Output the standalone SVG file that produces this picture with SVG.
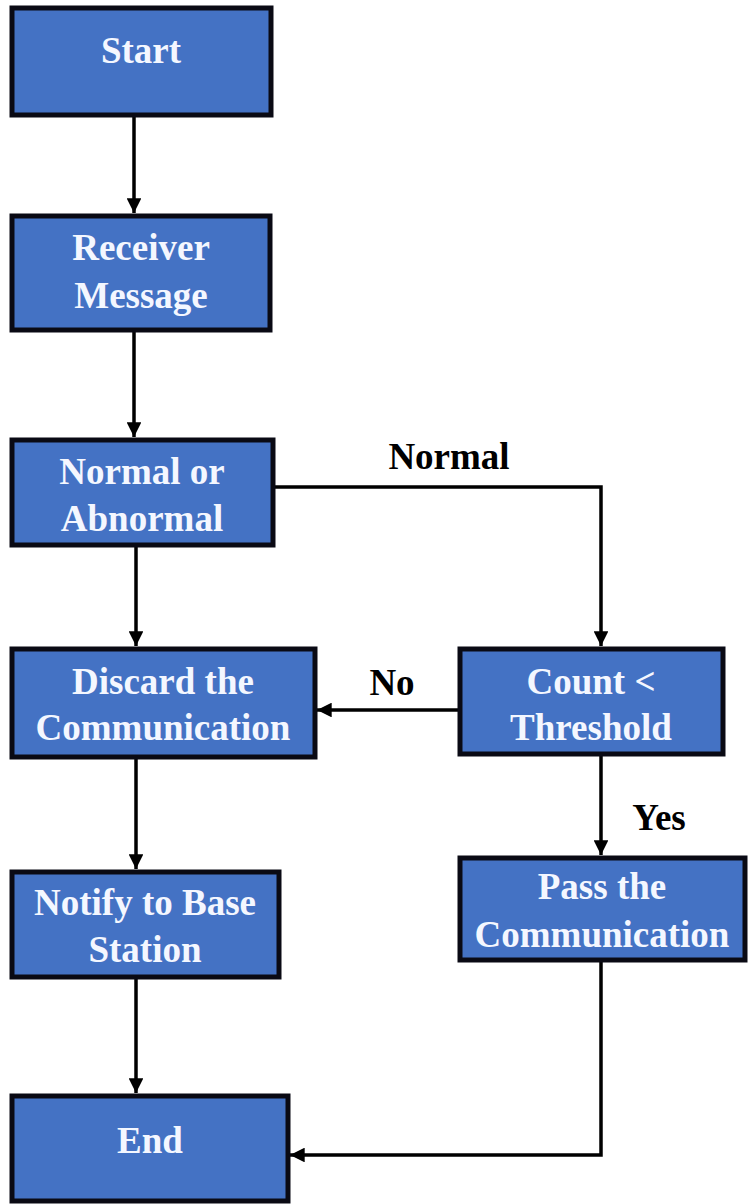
<svg xmlns="http://www.w3.org/2000/svg" width="748" height="1204" viewBox="0 0 748 1204">
<style>
.box{fill:#4472C4;stroke:#0a0a14;stroke-width:5}
.t{font-family:"Liberation Serif","Times New Roman",serif;font-weight:bold;font-size:37px;fill:#f4f7ff;text-anchor:middle}
.lbl{font-family:"Liberation Serif","Times New Roman",serif;font-weight:bold;font-size:37px;fill:#000;text-anchor:middle}
.c{fill:none;stroke:#000;stroke-width:3.5}
</style>
<defs>
<marker id="ah" viewBox="0 0 10 10" refX="10" refY="5" markerWidth="4.2" markerHeight="4.2" orient="auto" markerUnits="strokeWidth">
<path d="M0,0 L10,5 L0,10 z" fill="#000"/>
</marker>
</defs>
<rect width="748" height="1204" fill="#fff"/>
<g id="connectors">
<path class="c" d="M134,115 V213" marker-end="url(#ah)"/>
<path class="c" d="M134,330 V437" marker-end="url(#ah)"/>
<path class="c" d="M136,545 V646" marker-end="url(#ah)"/>
<path class="c" d="M273,487 H601 V646" marker-end="url(#ah)"/>
<path class="c" d="M460,710 H317" marker-end="url(#ah)"/>
<path class="c" d="M601,754 V855" marker-end="url(#ah)"/>
<path class="c" d="M136,757 V869" marker-end="url(#ah)"/>
<path class="c" d="M136,977 V1093" marker-end="url(#ah)"/>
<path class="c" d="M601,960 V1155 H290" marker-end="url(#ah)"/>
<text class="lbl" x="449" y="469">Normal</text>
<text class="lbl" x="392" y="695">No</text>
<text class="lbl" x="659" y="830">Yes</text>
</g>
<g id="start">
<rect class="box" x="12" y="8" width="259" height="107"/>
<text class="t" x="141" y="63">Start</text>
</g>
<g id="receiver">
<rect class="box" x="12" y="216" width="258" height="114"/>
<text class="t" x="141" y="260">Receiver</text>
<text class="t" x="141" y="308">Message</text>
</g>
<g id="normal">
<rect class="box" x="12" y="440" width="261" height="105"/>
<text class="t" x="142" y="484">Normal or</text>
<text class="t" x="142" y="531">Abnormal</text>
</g>
<g id="discard">
<rect class="box" x="12" y="649" width="303" height="108"/>
<text class="t" x="163" y="694">Discard the</text>
<text class="t" x="163" y="740">Communication</text>
</g>
<g id="count">
<rect class="box" x="460" y="649" width="263" height="105"/>
<text class="t" x="591" y="694">Count &lt;</text>
<text class="t" x="591" y="740">Threshold</text>
</g>
<g id="notify">
<rect class="box" x="12" y="872" width="267" height="105"/>
<text class="t" x="145" y="915">Notify to Base</text>
<text class="t" x="145" y="962">Station</text>
</g>
<g id="pass">
<rect class="box" x="460" y="858" width="285" height="102"/>
<text class="t" x="602" y="899">Pass the</text>
<text class="t" x="602" y="947">Communication</text>
</g>
<g id="end">
<rect class="box" x="12" y="1096" width="276" height="105"/>
<text class="t" x="150" y="1153">End</text>
</g>
</svg>
